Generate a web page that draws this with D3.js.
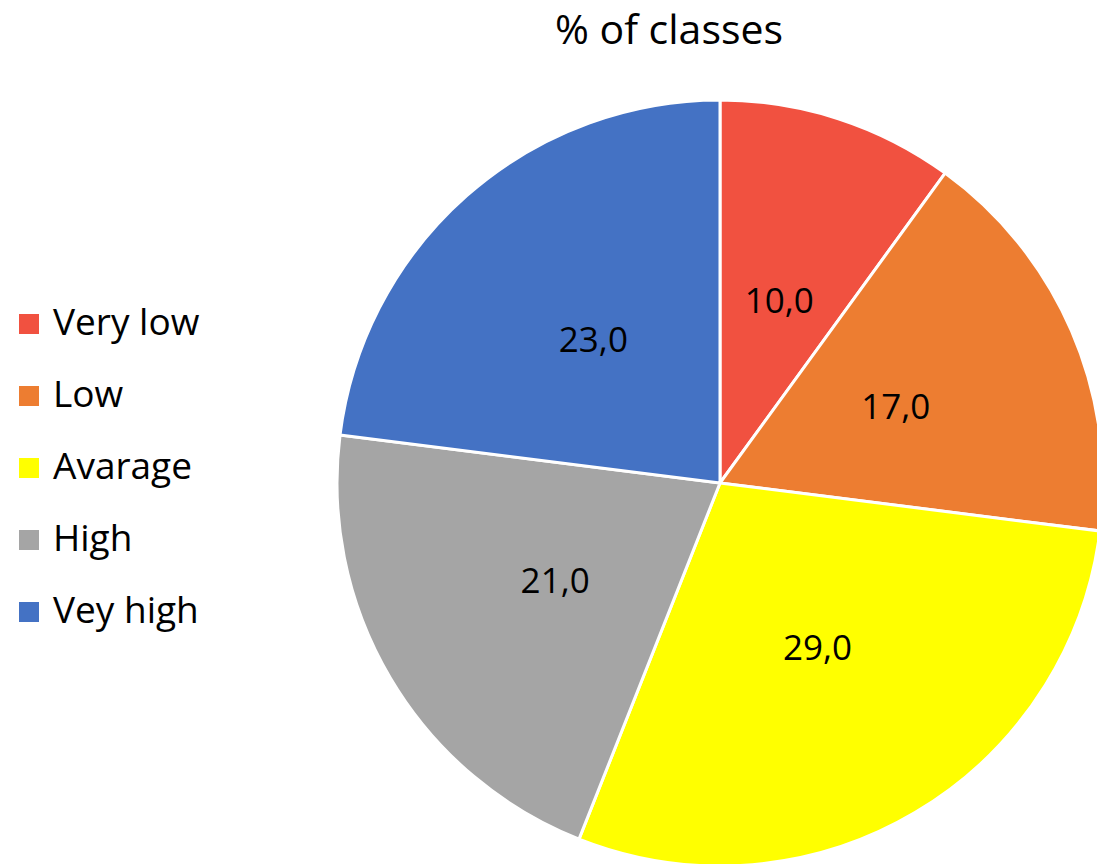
<!DOCTYPE html>
<html><head><meta charset="utf-8">
<script src="https://cdn.jsdelivr.net/npm/d3@7"></script>
<style>body{margin:0;background:#fff}svg{display:block}</style>
</head><body>
<script>
const categories = ["Very low", "Low", "Avarage", "High", "Vey high"];
const values = [10.0, 17.0, 29.0, 21.0, 23.0];
const colors = ["#F15140", "#ED7D31", "#FFFF00", "#A5A5A5", "#4472C4"];
const title = "% of classes";

const W = 1097, H = 864;
const font = "'Open Sans', sans-serif";
const svg = d3.select("body").append("svg").attr("width", W).attr("height", H);

svg.append("text").attr("x", 669).attr("y", 44).attr("text-anchor", "middle")
  .attr("font-family", font).attr("font-size", 41).attr("fill", "#000").text(title);

const cx = 720, cy = 483, r = 383;
const pie = d3.pie().sort(null).value(d => d)(values);
const arc = d3.arc().innerRadius(0).outerRadius(r);
const g = svg.append("g").attr("transform", `translate(${cx},${cy})`);
g.selectAll("path").data(pie).join("path")
  .attr("d", arc).attr("fill", (d, i) => colors[i])
  .attr("stroke", "#fff").attr("stroke-width", 3).attr("stroke-linejoin", "round");
g.selectAll("text").data(pie).join("text")
  .attr("transform", d => `translate(${arc.centroid(d)})`)
  .attr("text-anchor", "middle").attr("dy", "0.35em")
  .attr("font-family", font).attr("font-size", 35).attr("fill", "#000")
  .text(d => d3.format(".1f")(d.data).replace(".", ","));

const leg = svg.append("g");
const y = d3.scalePoint().domain(categories).range([335, 623]);
categories.forEach((c, i) => {
  leg.append("rect").attr("x", 19).attr("y", y(c) - 21).attr("width", 20).attr("height", 20).attr("fill", colors[i]);
  leg.append("text").attr("x", 53).attr("y", y(c)).attr("font-family", font).attr("font-size", 37).attr("fill", "#000").text(c);
});
</script>
</body></html>
